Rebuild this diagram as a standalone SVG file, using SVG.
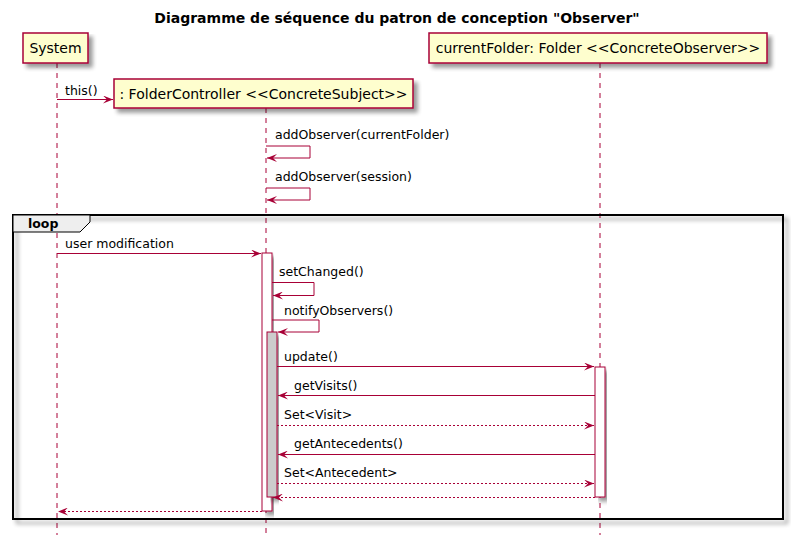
<svg xmlns="http://www.w3.org/2000/svg" width="791" height="547" viewBox="0 0 791 547">
<defs>
<filter id="sh" x="-10%" y="-10%" width="130%" height="140%">
<feGaussianBlur in="SourceAlpha" stdDeviation="2"/>
<feOffset dx="4" dy="4" result="b"/>
<feComponentTransfer><feFuncA type="linear" slope="0.4"/></feComponentTransfer>
<feMerge><feMergeNode/><feMergeNode in="SourceGraphic"/></feMerge>
</filter>
<marker id="ah" viewBox="0 0 10 8" refX="10" refY="4" markerWidth="10" markerHeight="8" markerUnits="userSpaceOnUse" orient="auto">
<polygon points="0,0 10,4 0,8 4,4" fill="#A80036"/>
</marker>
</defs>
<style>
text{font-family:"DejaVu Sans",sans-serif;font-size:12.5px;fill:#000}
.part{font-size:14px}
.title{font-size:14px;font-weight:bold}
.box{fill:#FEFECE;stroke:#A80036;stroke-width:1.5}
.life{stroke:#A80036;stroke-width:1;stroke-dasharray:5,5;fill:none}
.msg{stroke:#A80036;stroke-width:1;fill:none;marker-end:url(#ah)}
.ret{stroke:#A80036;stroke-width:1;fill:none;stroke-dasharray:2,2;marker-end:url(#ah)}
.act{fill:#FFFFFF;stroke:#A80036;stroke-width:1}
.act2{fill:#CCCCCC;stroke:#A80036;stroke-width:1}
</style>
<rect width="791" height="547" fill="#FFFFFF"/>
<text class="title" x="397" y="23" text-anchor="middle">Diagramme de séquence du patron de conception "Observer"</text>

<g id="lifelines">
<line class="life" x1="57" y1="63" x2="57" y2="535"/>
<line class="life" x1="266" y1="108" x2="266" y2="537"/>
<line class="life" x1="600" y1="63" x2="600" y2="535"/>
</g>

<g id="loop">
<rect x="13" y="215" width="770" height="304" fill="none" stroke="#000" stroke-width="2" filter="url(#sh)"/>
<polygon points="13,215 90,215 90,222 80,232 13,232" fill="#EEEEEE" stroke="#000" stroke-width="1"/>
<text x="28" y="228" font-weight="bold" font-size="13">loop</text>
</g>

<g id="System">
<rect class="box" x="23" y="33" width="65" height="30" filter="url(#sh)"/>
<text class="part" x="55.5" y="53" text-anchor="middle">System</text>
</g>
<g id="FolderController">
<rect class="box" x="114" y="79" width="299" height="29" filter="url(#sh)"/>
<text class="part" x="263.5" y="99" text-anchor="middle">: FolderController &lt;&lt;ConcreteSubject&gt;&gt;</text>
</g>
<g id="currentFolder">
<rect class="box" x="429" y="33" width="338" height="30" filter="url(#sh)"/>
<text class="part" x="598" y="53" text-anchor="middle">currentFolder: Folder &lt;&lt;ConcreteObserver&gt;&gt;</text>
</g>

<g id="activations">
<rect class="act" x="262" y="253" width="10" height="258" filter="url(#sh)"/>
<rect class="act2" x="267" y="332" width="10" height="165" filter="url(#sh)"/>
<rect class="act" x="595" y="367" width="10" height="130" filter="url(#sh)"/>
</g>

<g id="connectors">
<line class="msg" x1="57" y1="99.5" x2="113" y2="99.5"/>
<text x="65" y="95">this()</text>

<polyline class="msg" points="266,146 310,146 310,158 267,158"/>
<text x="275" y="139">addObserver(currentFolder)</text>
<polyline class="msg" points="266,188 310,188 310,200 267,200"/>
<text x="275" y="181">addObserver(session)</text>

<line class="msg" x1="57" y1="253.5" x2="261" y2="253.5"/>
<text x="65" y="248">user modification</text>

<polyline class="msg" points="272,282.5 314,282.5 314,295.5 273,295.5"/>
<text x="279" y="276">setChanged()</text>
<polyline class="msg" points="272,320 319,320 319,332 278,332"/>
<text x="284" y="315">notifyObservers()</text>

<line class="msg" x1="277" y1="366.5" x2="594" y2="366.5"/>
<text x="284" y="361">update()</text>
<line class="msg" x1="595" y1="395.5" x2="278" y2="395.5"/>
<text x="294" y="390">getVisits()</text>
<line class="ret" x1="277" y1="425.5" x2="594" y2="425.5"/>
<text x="284" y="419">Set&lt;Visit&gt;</text>
<line class="msg" x1="595" y1="454.5" x2="278" y2="454.5"/>
<text x="294" y="448">getAntecedents()</text>
<line class="ret" x1="277" y1="483.5" x2="594" y2="483.5"/>
<text x="284" y="477">Set&lt;Antecedent&gt;</text>
<line class="ret" x1="595" y1="497.5" x2="273" y2="497.5"/>
<line class="ret" x1="262" y1="511.5" x2="58" y2="511.5"/>
</g>
</svg>
